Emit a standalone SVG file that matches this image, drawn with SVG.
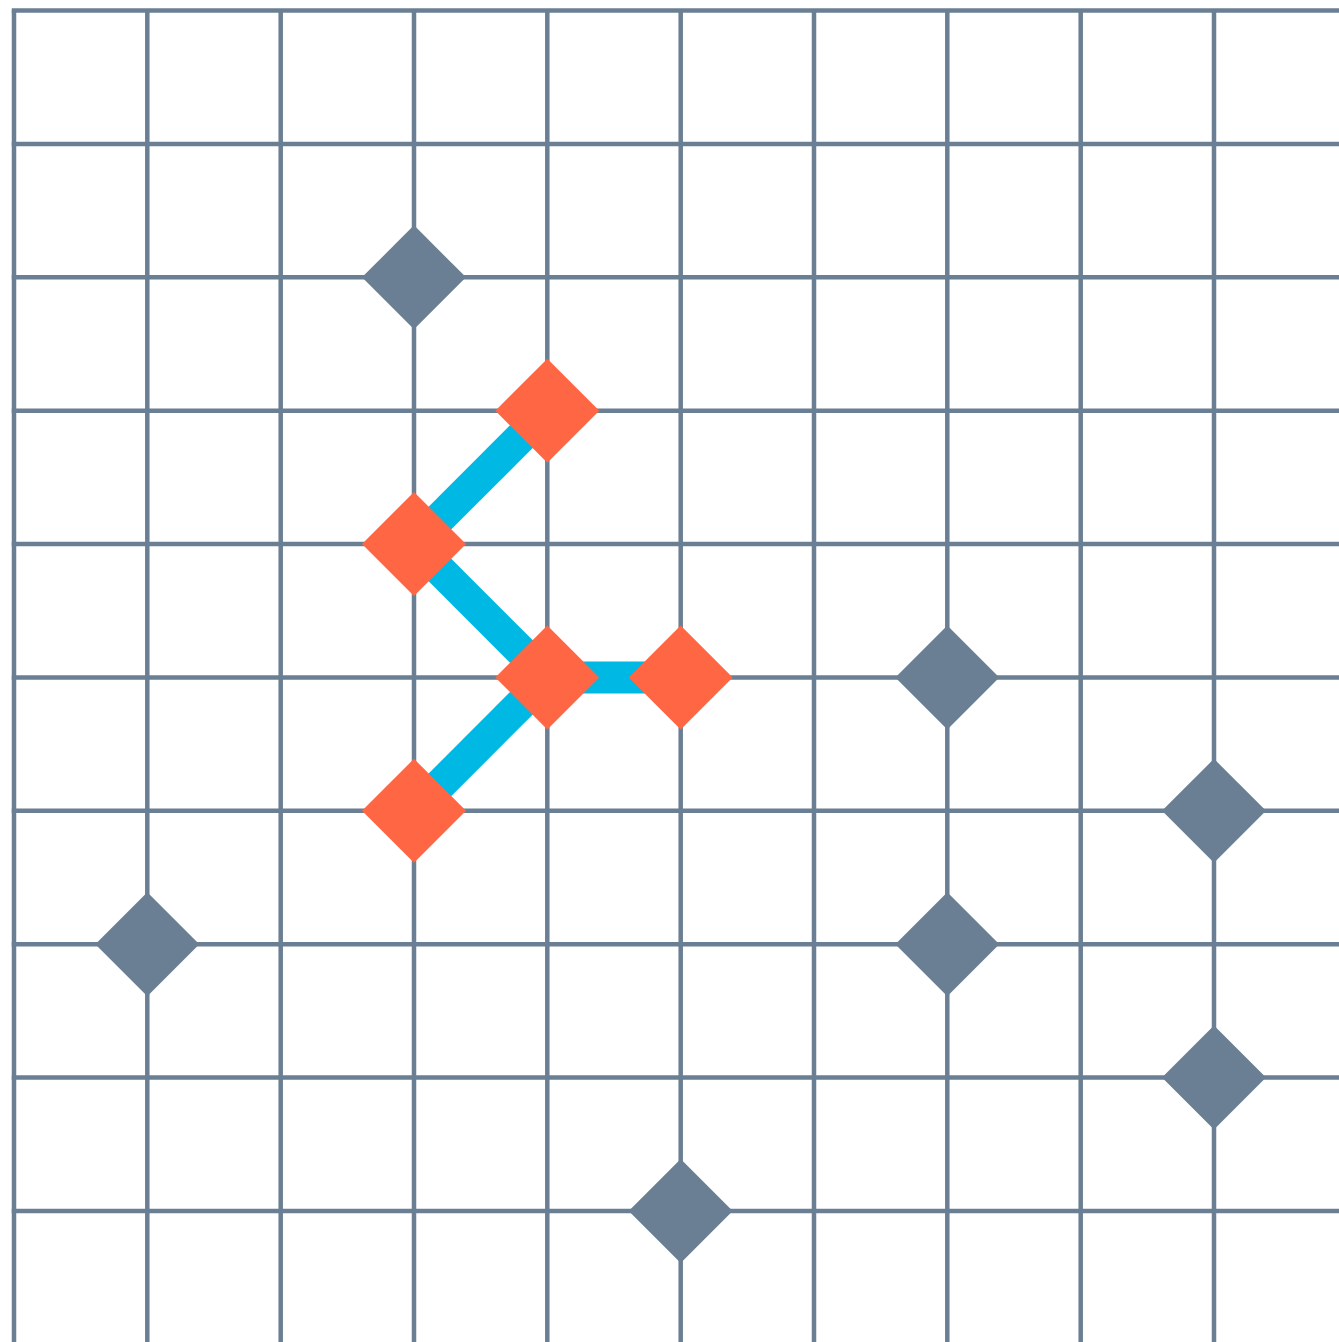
<svg xmlns="http://www.w3.org/2000/svg" width="1339" height="1342" viewBox="0 0 1339 1342">
<defs>
<style>
.g{stroke:#6a7f93;stroke-width:4.5;fill:none}
.e{stroke:#00b8e4;stroke-width:32;stroke-linecap:butt;fill:none}
.gd{fill:#6a7f93}
.od{fill:#ff6644}
</style>
<path id="dia" d="M0,-52 L52,0 L0,52 L-52,0 Z"/>
</defs>
<rect width="1339" height="1342" fill="#ffffff"/>
<g id="grid" class="g">
<line x1="14" y1="10.5" x2="14" y2="1342"/>
<line x1="147.3" y1="10.5" x2="147.3" y2="1342"/>
<line x1="280.7" y1="10.5" x2="280.7" y2="1342"/>
<line x1="414" y1="10.5" x2="414" y2="1342"/>
<line x1="547.3" y1="10.5" x2="547.3" y2="1342"/>
<line x1="680.7" y1="10.5" x2="680.7" y2="1342"/>
<line x1="814" y1="10.5" x2="814" y2="1342"/>
<line x1="947.3" y1="10.5" x2="947.3" y2="1342"/>
<line x1="1080.7" y1="10.5" x2="1080.7" y2="1342"/>
<line x1="1214" y1="10.5" x2="1214" y2="1342"/>
<line x1="11.75" y1="10.5" x2="1339" y2="10.5"/>
<line x1="11.75" y1="143.9" x2="1339" y2="143.9"/>
<line x1="11.75" y1="277.3" x2="1339" y2="277.3"/>
<line x1="11.75" y1="410.7" x2="1339" y2="410.7"/>
<line x1="11.75" y1="544" x2="1339" y2="544"/>
<line x1="11.75" y1="677.4" x2="1339" y2="677.4"/>
<line x1="11.75" y1="810.8" x2="1339" y2="810.8"/>
<line x1="11.75" y1="944.2" x2="1339" y2="944.2"/>
<line x1="11.75" y1="1077.6" x2="1339" y2="1077.6"/>
<line x1="11.75" y1="1211" x2="1339" y2="1211"/>
</g>
<g id="connectors" class="e">
<line x1="547.3" y1="410.7" x2="414" y2="544"/>
<line x1="414" y1="544" x2="547.3" y2="677.4"/>
<line x1="547.3" y1="677.4" x2="680.7" y2="677.4"/>
<line x1="547.3" y1="677.4" x2="414" y2="810.8"/>
</g>
<g id="g1" class="gd"><use href="#dia" x="414" y="277.3"/></g>
<g id="g2" class="gd"><use href="#dia" x="947.3" y="677.4"/></g>
<g id="g3" class="gd"><use href="#dia" x="1214" y="810.8"/></g>
<g id="g4" class="gd"><use href="#dia" x="147.3" y="944.2"/></g>
<g id="g5" class="gd"><use href="#dia" x="947.3" y="944.2"/></g>
<g id="g6" class="gd"><use href="#dia" x="1214" y="1077.6"/></g>
<g id="g7" class="gd"><use href="#dia" x="680.7" y="1211"/></g>
<g id="o1" class="od"><use href="#dia" x="547.3" y="410.7"/></g>
<g id="o2" class="od"><use href="#dia" x="414" y="544"/></g>
<g id="o3" class="od"><use href="#dia" x="547.3" y="677.4"/></g>
<g id="o4" class="od"><use href="#dia" x="680.7" y="677.4"/></g>
<g id="o5" class="od"><use href="#dia" x="414" y="810.8"/></g>
</svg>
